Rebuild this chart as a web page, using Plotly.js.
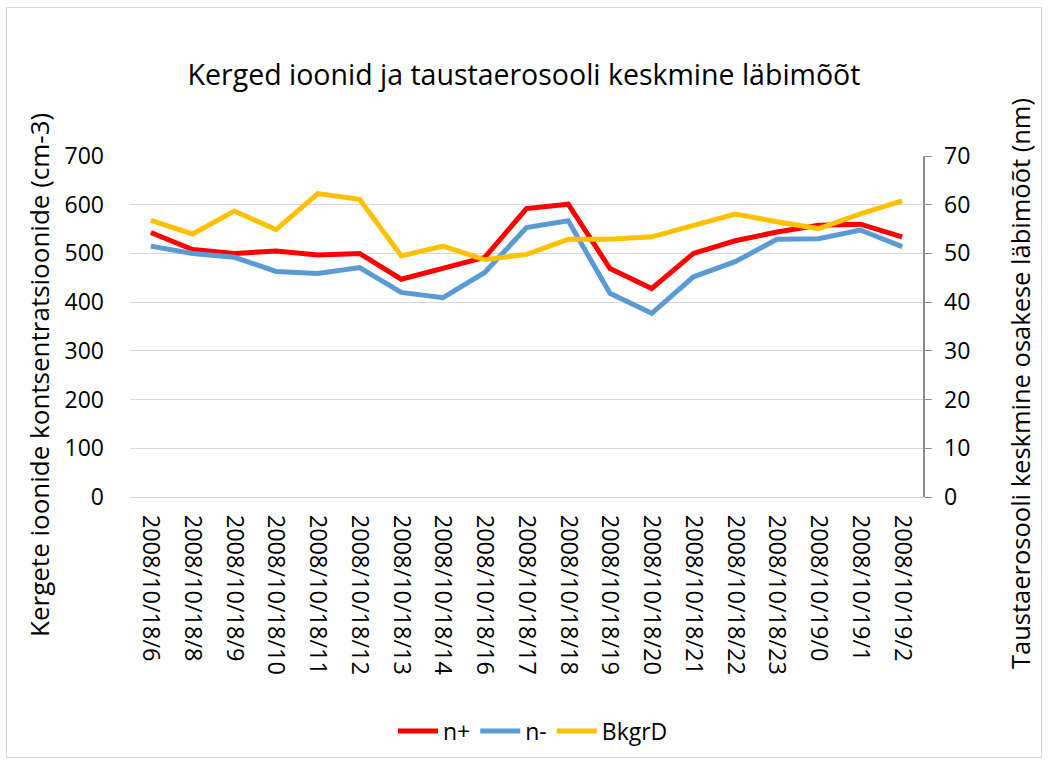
<!DOCTYPE html>
<html><head><meta charset="utf-8">
<script src="https://cdn.plot.ly/plotly-3.0.1.min.js"></script>
<style>html,body{margin:0;padding:0;background:#fff}#c{width:1048px;height:764px}</style>
</head><body><div id="c"></div>
<script>
const categories = ["2008/10/18/6","2008/10/18/8","2008/10/18/9","2008/10/18/10","2008/10/18/11","2008/10/18/12","2008/10/18/13","2008/10/18/14","2008/10/18/16","2008/10/18/17","2008/10/18/18","2008/10/18/19","2008/10/18/20","2008/10/18/21","2008/10/18/22","2008/10/18/23","2008/10/19/0","2008/10/19/1","2008/10/19/2"];
const nPlus  = [543, 508, 500, 505, 497, 500, 447, 469, 492, 592, 601, 469, 428, 500, 526, 544, 558, 560, 534];
const nMinus = [515, 500, 492, 463, 459, 471, 420, 409, 461, 553, 567, 418, 377, 452, 483, 529, 530, 548, 514];
const bkgrD  = [56.8, 54.0, 58.7, 54.9, 62.3, 61.1, 49.5, 51.5, 48.7, 49.8, 52.9, 52.9, 53.4, 55.8, 58.1, 56.5, 55.1, 58.1, 60.8];
const leftRange = [0, 700];
const rightRange = [0, 70];

const W = 1048, H = 764, L = 130, R = 923, T = 156, B = 497;
const px = x => (x - L) / (R - L);
const py = y => (B - y) / (B - T);
const FONT = "'Open Sans', sans-serif";

const traces = [
  {x: categories, y: nPlus, name: "n+", legendgroup: "a", type: "scatter", mode: "lines", line: {color: "#FF0000", width: 5}},
  {x: categories, y: nMinus, name: "n-", legendgroup: "b", type: "scatter", mode: "lines", line: {color: "#5B9BD5", width: 5}},
  {x: categories, y: bkgrD, name: "BkgrD", legendgroup: "c", type: "scatter", mode: "lines", yaxis: "y2", line: {color: "#FFC000", width: 5}}
];

const layout = {
  width: W, height: H,
  margin: {l: L, r: W - R, t: T, b: H - B, pad: 0},
  paper_bgcolor: "#fff", plot_bgcolor: "#fff",
  font: {family: FONT, size: 23, color: "#000"},
  title: {text: "Kerged ioonid ja taustaerosooli keskmine läbimõõt", font: {family: FONT, size: 28.5, color: "#000"}, x: 0.5, xref: "container", y: 1 - 75 / H, yref: "container", yanchor: "middle"},
  showlegend: true,
  legend: {orientation: "h", x: px(533), xref: "paper", xanchor: "center", y: py(731), yanchor: "middle", font: {family: FONT, size: 23}, itemwidth: 40, tracegroupgap: 18},
  xaxis: {type: "category", range: [-0.5, categories.length - 0.5], tickangle: 90, showgrid: false, showline: true, linecolor: "#D9D9D9", linewidth: 1, ticks: "", ticklabelstandoff: 12, tickfont: {family: FONT, size: 23.5}, fixedrange: true},
  yaxis: {range: leftRange, dtick: 100, showgrid: true, gridcolor: "#D9D9D9", gridwidth: 1, zeroline: false, showline: false, ticks: "", ticklabelstandoff: 25, tickfont: {family: FONT, size: 23}},
  yaxis2: {range: rightRange, dtick: 10, overlaying: "y", side: "right", showgrid: false, zeroline: false, showline: true, linecolor: "#8C8C8C", linewidth: 1.5, ticks: "outside", ticklen: 7, tickcolor: "#8C8C8C", ticklabelstandoff: 8, tickfont: {family: FONT, size: 23}},
  annotations: [
    {text: "Kergete ioonide kontsentratsioonide (cm-3)", xref: "paper", yref: "paper", x: px(39), y: py(375), textangle: -90, showarrow: false, font: {family: FONT, size: 26}, xanchor: "center", yanchor: "middle"},
    {text: "Taustaerosooli keskmine osakese läbimõõt (nm)", xref: "paper", yref: "paper", x: px(1020), y: py(383), textangle: -90, showarrow: false, font: {family: FONT, size: 25.5}, xanchor: "center", yanchor: "middle"}
  ],
  shapes: [
    {type: "rect", xref: "paper", yref: "paper", x0: px(6.5), x1: px(1041.5), y0: py(7.5), y1: py(757.5), line: {color: "#D9D9D9", width: 1}, layer: "below"}
  ]
};

Plotly.newPlot("c", traces, layout, {displayModeBar: false, staticPlot: true});
</script></body></html>
